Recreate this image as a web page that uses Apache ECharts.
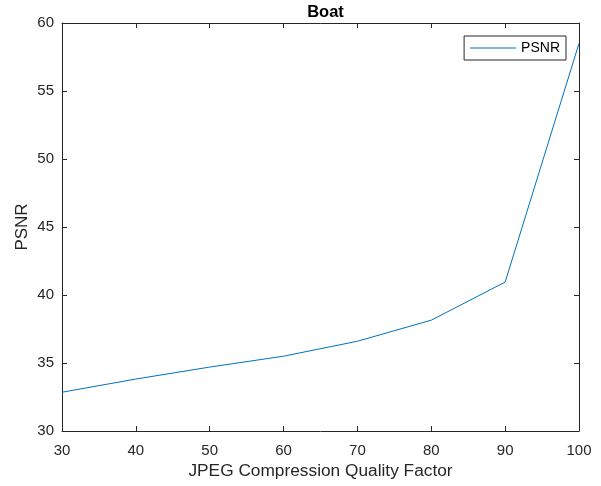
<!DOCTYPE html>
<html>
<head>
<meta charset="utf-8">
<script src="https://cdn.jsdelivr.net/npm/echarts@6/dist/echarts.min.js"></script>
<style>html,body{margin:0;padding:0;background:#fff;}#c{width:601px;height:486px;}</style>
</head>
<body>
<div id="c"></div>
<script>
const quality = [30, 40, 50, 60, 70, 80, 90, 100];
const psnr = [32.85, 33.82, 34.7, 35.5, 36.6, 38.15, 40.95, 58.5];
const xTicks = [30, 40, 50, 60, 70, 80, 90, 100];
const yTicks = [30, 35, 40, 45, 50, 55, 60];

const font = 'Liberation Sans, Arial, Helvetica, sans-serif';
const axisCol = '#262626';
const chart = echarts.init(document.getElementById('c'));
const baseX = {
  type: 'value', min: 30, max: 100, interval: 10,
  axisLine: { show: true, onZero: false, lineStyle: { color: axisCol, width: 1 } },
  axisTick: { show: true, inside: true, length: 5, lineStyle: { color: axisCol } },
  splitLine: { show: false }
};
const baseY = {
  type: 'value', min: 30, max: 60, interval: 5,
  axisLine: { show: true, onZero: false, lineStyle: { color: axisCol, width: 1 } },
  axisTick: { show: true, inside: true, length: 5, lineStyle: { color: axisCol } },
  splitLine: { show: false }
};
chart.setOption({
  animation: false,
  backgroundColor: '#fff',
  title: {
    text: 'Boat', left: 320.5, textAlign: 'center', top: -1,
    textStyle: { fontFamily: font, fontSize: 16.5, fontWeight: 'bold', color: '#000' }
  },
  grid: { left: 62, right: 22, top: 23, bottom: 55 },
  legend: {
    data: [{ name: 'PSNR', icon: 'rect' }], right: 35, top: 36,
    orient: 'vertical',
    backgroundColor: '#fff', borderColor: axisCol, borderWidth: 1, borderRadius: 0,
    padding: [5, 6, 5, 6],
    itemWidth: 46, itemHeight: 1, itemGap: 0,
    itemStyle: { color: '#0072BD', borderWidth: 0 },
    textStyle: { fontFamily: font, fontSize: 14, color: '#000', lineHeight: 14 }
  },
  xAxis: [
    Object.assign({}, baseX, {
      position: 'bottom',
      name: 'JPEG Compression Quality Factor', nameLocation: 'middle', nameGap: 32,
      nameMoveOverlap: false,
      nameTextStyle: { fontFamily: font, fontSize: 17.3, color: axisCol },
      axisLabel: { show: true, fontFamily: font, fontSize: 15, color: axisCol, margin: 12,
        formatter: v => xTicks.includes(v) ? String(v) : '' }
    }),
    Object.assign({}, baseX, { position: 'top', axisLabel: { show: false } })
  ],
  yAxis: [
    Object.assign({}, baseY, {
      position: 'left',
      name: 'PSNR', nameLocation: 'middle', nameGap: 31,
      nameMoveOverlap: false,
      nameTextStyle: { fontFamily: font, fontSize: 17, color: axisCol },
      axisLabel: { show: true, fontFamily: font, fontSize: 15, color: axisCol, margin: 8,
        formatter: v => yTicks.includes(v) ? String(v) : '' }
    }),
    Object.assign({}, baseY, { position: 'right', axisLabel: { show: false } })
  ],
  series: [{
    name: 'PSNR', type: 'line',
    data: quality.map((q, i) => [q, psnr[i]]),
    xAxisIndex: 0, yAxisIndex: 0,
    showSymbol: false, symbol: 'none',
    lineStyle: { color: '#0072BD', width: 1 },
    itemStyle: { color: '#0072BD' }
  }]
});
</script>
</body>
</html>
